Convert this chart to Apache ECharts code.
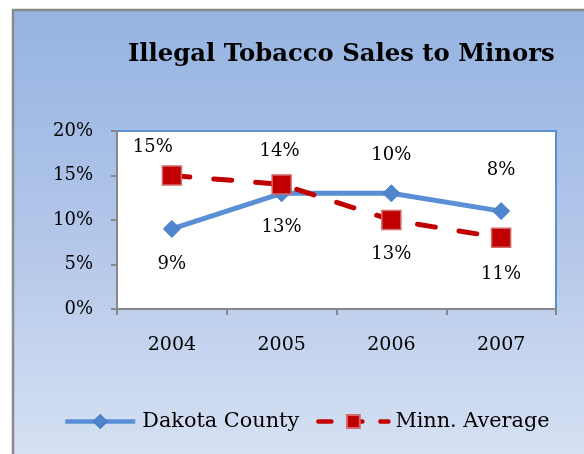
<!DOCTYPE html>
<html>
<head>
<meta charset="utf-8">
<script src="https://cdn.jsdelivr.net/npm/echarts@6/dist/echarts.min.js"></script>
<style>
  html, body { margin: 0; padding: 0; background: #ffffff; }
  #chart { width: 584px; height: 454px; }
</style>
</head>
<body>
<div id="chart"></div>
<script>
// Share of compliance checks that ended in a sale to a minor, by year
const years = ['2004', '2005', '2006', '2007'];
const dakotaCounty = [9, 13, 13, 11];
const minnAverage = [15, 14, 10, 8];
const yTicks = [0, 5, 10, 15, 20];

const FONT = '"DejaVu Serif", "Liberation Serif", serif';

// Where each value label sits relative to its marker (pixels)
const dakotaLabelShift = [[0, 35], [0, 34], [0, 61], [0, 63]];
const minnLabelShift = [[-19, -28], [-2, -33], [0, -65], [0, -67]];

function withLabels(values, shifts) {
  return values.map((v, i) => ({
    value: v,
    label: { offset: shifts[i] }
  }));
}

const chart = echarts.init(document.getElementById('chart'), null, { renderer: 'canvas' });

chart.setOption({
  animation: false,
  backgroundColor: '#ffffff',
  graphic: [{
    type: 'rect',
    z: -100,
    silent: true,
    shape: { x: 13, y: 10, width: 600, height: 500 },
    style: {
      fill: new echarts.graphic.LinearGradient(0, 0, 0, 1, [
        { offset: 0, color: '#95b3e1' },
        { offset: 0.5, color: '#b6c9ea' },
        { offset: 1, color: '#dfe7f5' }
      ]),
      stroke: '#8a8a8a',
      lineWidth: 2.5
    }
  }],
  title: {
    text: 'Illegal Tobacco Sales to Minors',
    left: 123,
    top: 38,
    textStyle: {
      fontFamily: FONT,
      fontWeight: 'bold',
      fontSize: 24.3,
      color: '#000000'
    }
  },
  grid: {
    left: 117,
    right: 28,
    top: 131,
    bottom: 145,
    show: true,
    backgroundColor: '#ffffff',
    borderColor: '#5b8fd4',
    borderWidth: 2
  },
  legend: {
    left: 63,
    top: 411,
    padding: 0,
    itemWidth: 70,
    itemHeight: 16,
    itemGap: 17,
    textStyle: {
      fontFamily: FONT,
      fontSize: 20.8,
      color: '#000000',
      padding: [0, 0, 0, 2]
    },
    data: [
      { name: 'Dakota County', lineStyle: { width: 4.5 } },
      { name: 'Minn. Average', lineStyle: { width: 4.5, type: [13, 18] } }
    ]
  },
  xAxis: {
    type: 'category',
    data: years,
    boundaryGap: true,
    axisLine: { lineStyle: { color: '#878787', width: 2 } },
    axisTick: { show: true, length: 6, alignWithLabel: false, lineStyle: { color: '#878787', width: 2 } },
    axisLabel: {
      margin: 27,
      fontFamily: FONT,
      fontSize: 19,
      color: '#000000'
    },
    splitLine: { show: false }
  },
  yAxis: {
    type: 'value',
    min: yTicks[0],
    max: yTicks[yTicks.length - 1],
    interval: yTicks[1] - yTicks[0],
    axisLine: { show: true, lineStyle: { color: '#878787', width: 2 } },
    axisTick: { show: true, length: 6, lineStyle: { color: '#878787', width: 2 } },
    axisLabel: {
      margin: 24,
      fontFamily: FONT,
      fontSize: 18,
      color: '#000000',
      formatter: '{value}%'
    },
    splitLine: { show: false }
  },
  series: [
    {
      name: 'Dakota County',
      type: 'line',
      data: withLabels(dakotaCounty, dakotaLabelShift),
      symbol: 'diamond',
      symbolSize: 17,
      z: 3,
      lineStyle: { color: '#5a8fd6', width: 5 },
      itemStyle: { color: '#4f85cc', borderColor: '#4a7fc4', borderWidth: 1 },
      label: {
        show: true,
        position: 'inside',
        fontFamily: FONT,
        fontSize: 18,
        color: '#000000',
        formatter: p => p.value + '%'
      }
    },
    {
      name: 'Minn. Average',
      type: 'line',
      data: withLabels(minnAverage, minnLabelShift),
      symbol: 'rect',
      symbolSize: 19,
      z: 4,
      lineStyle: { color: '#c00000', width: 5, type: [18, 24], cap: 'round' },
      itemStyle: { color: '#c00000', borderColor: '#d26a6a', borderWidth: 1.5 },
      label: {
        show: true,
        position: 'inside',
        fontFamily: FONT,
        fontSize: 18,
        color: '#000000',
        formatter: p => p.value + '%'
      }
    }
  ]
});
</script>
</body>
</html>
